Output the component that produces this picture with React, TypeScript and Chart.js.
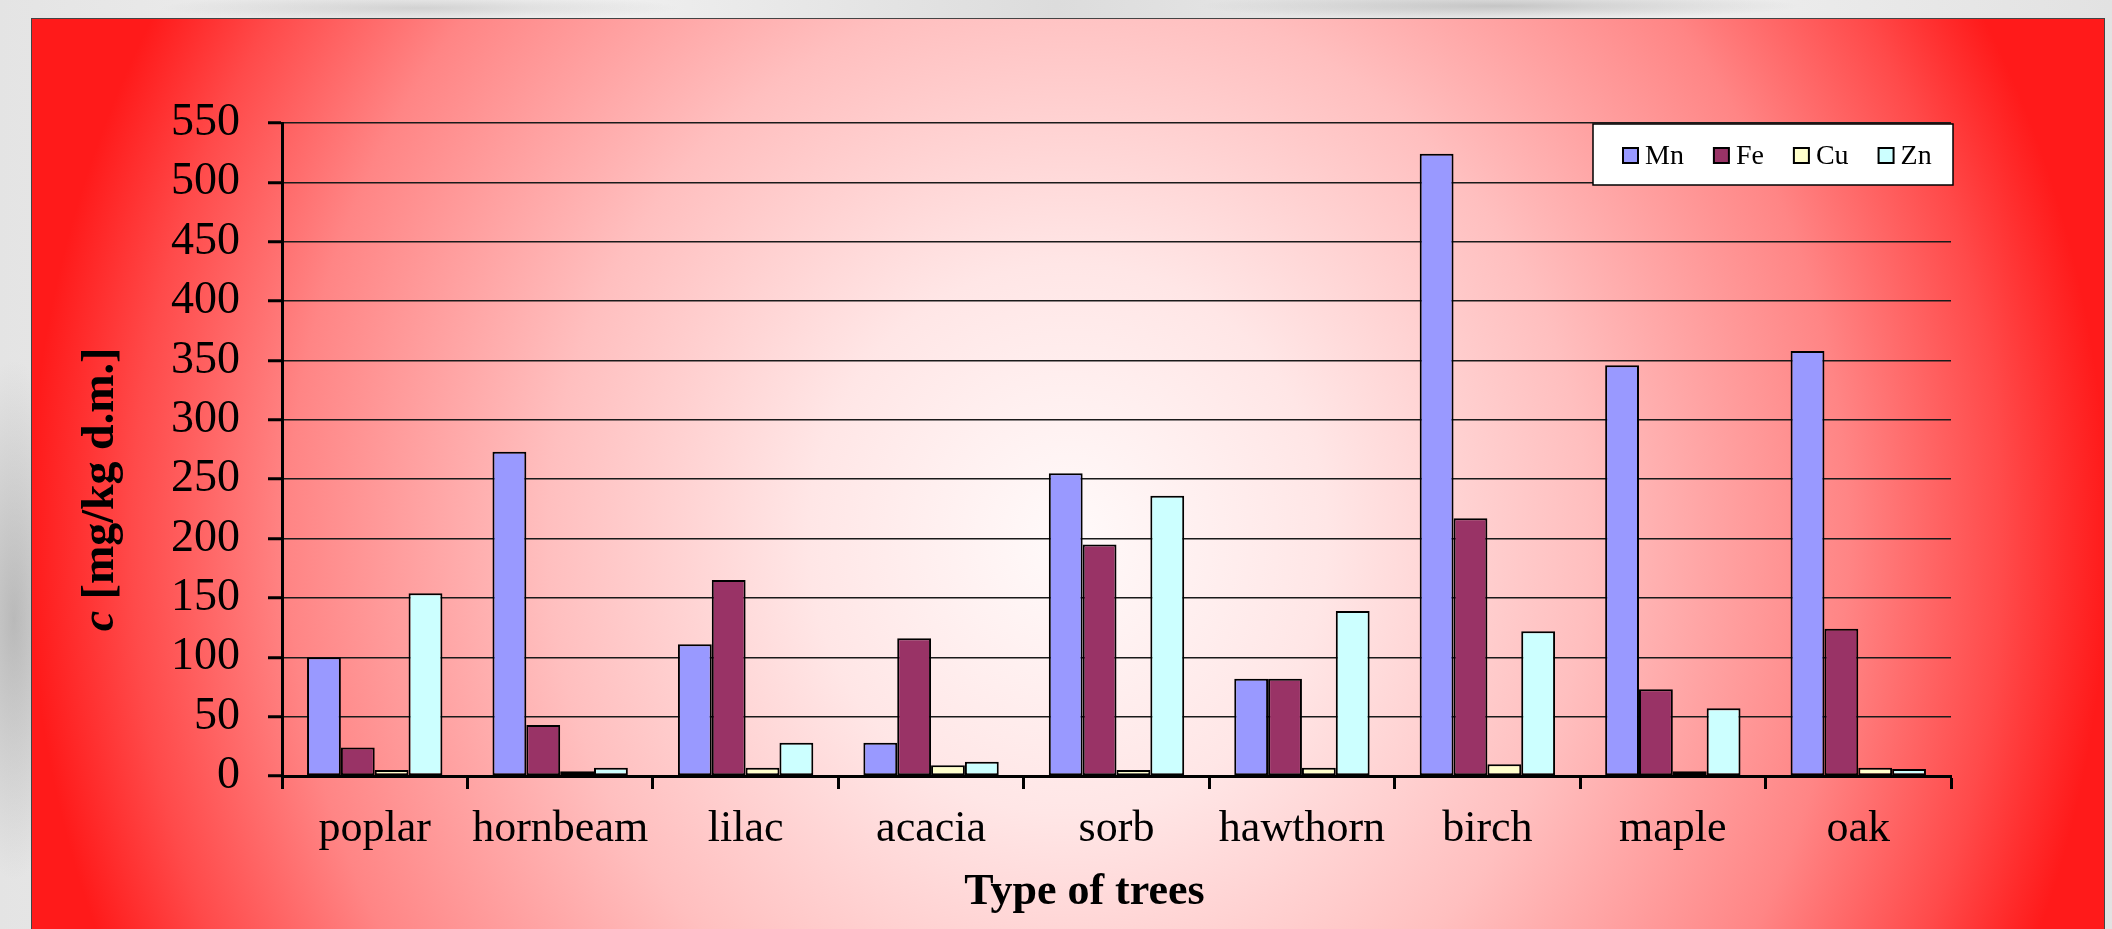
import React, { useEffect, useRef } from 'react';
import { Chart, registerables } from 'chart.js';

Chart.register(...registerables);

// Tree species sampled
const categories = ['poplar', 'hornbeam', 'lilac', 'acacia', 'sorb', 'hawthorn', 'birch', 'maple', 'oak'];

// Metal concentrations, mg/kg of dry matter
const mnValues = [100, 273, 111, 28, 255, 82, 524, 346, 358];
const feValues = [24, 43, 165, 116, 195, 82, 217, 73, 124];
const cuValues = [5, 4, 7, 9, 5, 7, 10, 4, 7];
const znValues = [154, 7, 28, 12, 236, 139, 122, 57, 6];

const seriesNames = ['Mn', 'Fe', 'Cu', 'Zn'];
const seriesColors = ['#9999FF', '#993366', '#FFFFCC', '#CCFFFF'];

// Value axis range
const yMin = 0;
const yMax = 550;
const yStep = 50;

const xTitle = 'Type of trees';
const yTitleVar = 'c';
const yTitleUnit = ' [mg/kg d.m.]';

const SERIF = '"Liberation Serif", "Times New Roman", serif';
const CANVAS_W = 2072;
const CANVAS_H = 910;

// Draws the boxed legend and both axis titles
const decorations = {
  id: 'decorations',
  afterDraw(chart: any) {
    const ctx = chart.ctx as CanvasRenderingContext2D;
    const area = chart.chartArea;
    ctx.save();

    // legend box in the upper right of the plot
    const lw = 360;
    const lh = 61;
    const lx = area.right - lw + 2;
    const ly = area.top + 1;
    ctx.fillStyle = '#ffffff';
    ctx.fillRect(lx, ly, lw, lh);
    ctx.strokeStyle = '#000';
    ctx.lineWidth = 1.5;
    ctx.strokeRect(lx, ly, lw, lh);

    ctx.font = `28px ${SERIF}`;
    ctx.textBaseline = 'alphabetic';
    ctx.textAlign = 'left';
    let x = lx + 30;
    const sq = 15;
    chart.data.datasets.forEach((ds: any) => {
      ctx.fillStyle = ds.backgroundColor;
      ctx.fillRect(x, ly + 24, sq, sq);
      ctx.lineWidth = 2;
      ctx.strokeStyle = '#000';
      ctx.strokeRect(x, ly + 24, sq, sq);
      ctx.fillStyle = '#000';
      ctx.fillText(ds.label, x + sq + 7, ly + 40);
      x += sq + 7 + ctx.measureText(ds.label).width + 30;
    });

    // category axis title
    ctx.font = `bold 44px ${SERIF}`;
    ctx.textAlign = 'center';
    ctx.fillStyle = '#000';
    ctx.fillText(xTitle, (area.left + area.right) / 2 - 32, 885);

    // value axis title, rotated
    ctx.translate(81, (area.top + area.bottom) / 2 + 40);
    ctx.rotate(-Math.PI / 2);
    const italicFont = `italic bold 46px ${SERIF}`;
    const boldFont = `bold 46px ${SERIF}`;
    ctx.font = italicFont;
    const w1 = ctx.measureText(yTitleVar).width;
    ctx.font = boldFont;
    const w2 = ctx.measureText(yTitleUnit).width;
    const start = -(w1 + w2) / 2;
    ctx.textAlign = 'left';
    ctx.font = italicFont;
    ctx.fillText(yTitleVar, start, 0);
    ctx.font = boldFont;
    ctx.fillText(yTitleUnit, start + w1, 0);

    ctx.restore();
  },
};

export default function App() {
  const canvasRef = useRef<HTMLCanvasElement | null>(null);

  useEffect(() => {
    const canvas = canvasRef.current;
    if (!canvas) return;
    const valueSets = [mnValues, feValues, cuValues, znValues];
    const chart = new Chart(canvas, {
      type: 'bar',
      data: {
        labels: categories,
        datasets: seriesNames.map((name, i) => ({
          label: name,
          data: valueSets[i],
          backgroundColor: seriesColors[i],
          borderColor: '#000',
          borderWidth: 2,
          borderSkipped: false,
          categoryPercentage: 0.73,
          barPercentage: 1,
        })),
      },
      options: {
        responsive: false,
        animation: false,
        devicePixelRatio: 1,
        layout: { padding: { top: 104, right: 153, bottom: 0, left: 0 } },
        plugins: {
          legend: { display: false },
          tooltip: { enabled: false },
          title: { display: false },
        },
        scales: {
          x: {
            offset: true,
            grid: {
              offset: true,
              drawOnChartArea: false,
              drawTicks: true,
              tickLength: 13,
              tickWidth: 3,
              tickColor: '#000',
            },
            border: { display: true, color: '#000', width: 3 },
            ticks: {
              color: '#000',
              font: { family: SERIF, size: 44 },
              padding: 14,
              maxRotation: 0,
              autoSkip: false,
            },
            afterFit: (s: any) => {
              s.height = 153;
            },
          },
          y: {
            min: yMin,
            max: yMax,
            ticks: {
              stepSize: yStep,
              color: '#000',
              font: { family: SERIF, size: 46 },
              padding: 28,
            },
            grid: {
              color: '#1a1a1a',
              lineWidth: 1.5,
              tickLength: 14,
              tickWidth: 3,
              tickColor: '#000',
            },
            border: { display: true, color: '#000', width: 3 },
            afterFit: (s: any) => {
              s.width = 250;
            },
          },
        },
      },
      plugins: [decorations],
    } as any);
    return () => chart.destroy();
  }, []);

  return (
    <div
      style={{
        position: 'absolute',
        left: 0,
        top: 0,
        width: 2112,
        height: 929,
        overflow: 'hidden',
        background:
          'radial-gradient(ellipse 60px 260px at 14px 620px, rgba(150,150,150,0.55), rgba(150,150,150,0) 100%),' +
          'radial-gradient(ellipse 300px 14px at 1500px 6px, rgba(170,170,170,0.6), rgba(170,170,170,0) 100%),' +
          'radial-gradient(ellipse 260px 14px at 420px 8px, rgba(180,180,180,0.5), rgba(180,180,180,0) 100%),' +
          'linear-gradient(90deg, #e4e4e4, #f3f3f3 25%, #dcdcdc 50%, #f1f1f1 75%, #e2e2e2)',
      }}
    >
      <canvas
        ref={canvasRef}
        width={CANVAS_W}
        height={CANVAS_H}
        style={{
          position: 'absolute',
          left: 32,
          top: 19,
          width: CANVAS_W,
          height: CANVAS_H,
          boxShadow: '0 0 0 1px #444',
          background:
            'radial-gradient(1040px 1100px at 1036px 520px, #fffafa 0%, #ffe6e6 25%, #ffbfbf 50%, #ff8585 75%, #ff4a4a 90%, #ff1a1a 100%)',
        }}
      />
    </div>
  );
}
